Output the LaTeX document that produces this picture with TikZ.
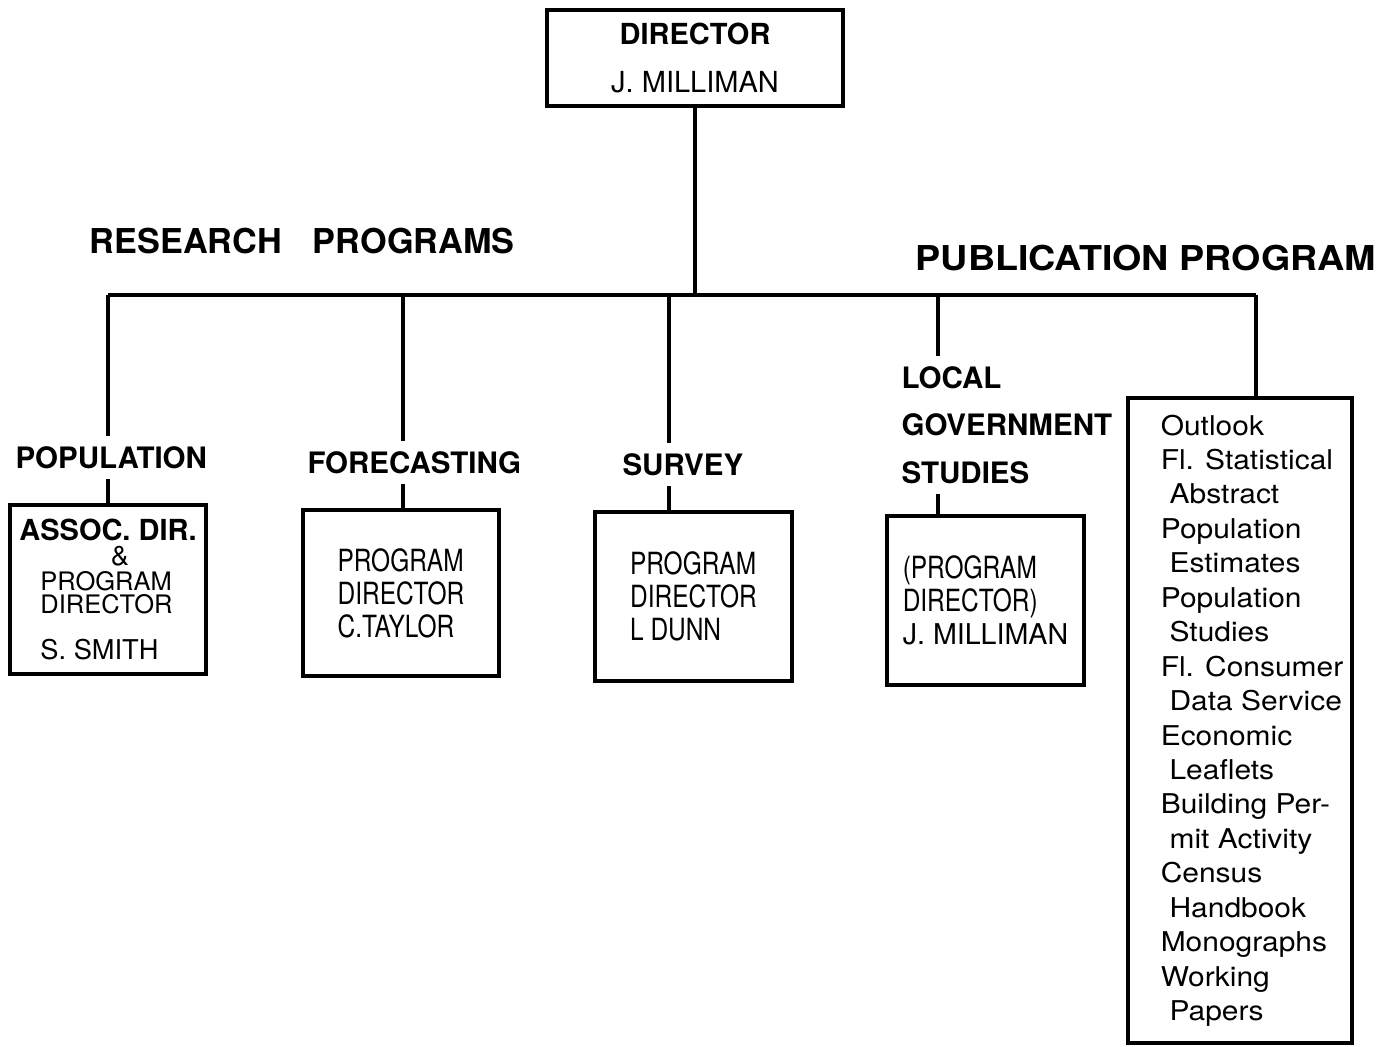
\documentclass[tikz,border=0pt]{standalone}
\usepackage{fontspec}
\setmainfont{TeX Gyre Heros}
\newfontfamily\condfont{TeX Gyre Heros}[FakeStretch=0.8]
\newfontfamily\widefont{TeX Gyre Heros}[FakeStretch=1.1]
\usepackage{tikz}

\begin{document}
\begin{tikzpicture}[x=0.02cm,y=-0.02cm,line width=2pt]
    \tikzstyle{unitbox}=[draw,inner sep=0pt,align=left]
    \tikzstyle{heading}=[font=\bfseries\fontsize{19.5}{24}\selectfont,inner sep=0pt,anchor=base west]
    \tikzstyle{program}=[font=\bfseries\fontsize{16.8}{27}\selectfont,inner sep=5pt]
    \tikzstyle{staff}=[font=\condfont\fontsize{17.4}{18.7}\selectfont]
    \useasboundingbox (0,0) rectangle (1398,1046);

    \node[unitbox,align=center,minimum width=5.92cm,minimum height=1.92cm,
      font=\fontsize{16.5}{27.3}\selectfont] (director) at (695,58)
      {\textbf{DIRECTOR}\\J. MILLIMAN};

    \node[heading] (research) at (88,253) {RESEARCH\hspace*{17.6pt}PROGRAMS};
    \node[heading,font=\widefont\bfseries\fontsize{19.5}{24}\selectfont] (publication) at (914,270)
      {PUBLICATION PROGRAM};

    % the bar and its joints
    \coordinate (jpop) at (108,295);
    \coordinate (jfore) at (403,295);
    \coordinate (jsurv) at (669,295);
    \coordinate (jlocal) at (938,295);
    \coordinate (jpub) at (1256,295);
    \draw (jpop) -- (jpub);
    \draw (director) -- (director |- jpop);

    \node[program,anchor=base west] (population) at (5,468) {POPULATION};
    \node[program,anchor=base west] (forecasting) at (297,473) {FORECASTING};
    \node[program,anchor=base west] (survey) at (612,475) {SURVEY};
    \node[program,anchor=north west,align=left] (localgov) at (891,356)
      {LOCAL\\GOVERNMENT\\STUDIES};

    \node[unitbox,minimum width=3.92cm,minimum height=3.38cm,
      font=\fontsize{14.5}{13.1}\selectfont] (popbox) at (108,589.5)
      {{\bfseries\fontsize{16.5}{13.1}\selectfont ASSOC. DIR.}\\[1.1pt]
       \hspace*{52pt}{\fontsize{15.5}{13.1}\selectfont\&}\\[1.1pt]
       \hspace*{12pt}PROGRAM\\
       \hspace*{12pt}DIRECTOR\\[13.6pt]
       \hspace*{12pt}{\fontsize{15.5}{13.1}\selectfont S. SMITH}};
    \node[unitbox,staff,minimum width=3.92cm,minimum height=3.32cm] (forebox) at (401,593)
      {PROGRAM\\DIRECTOR\\C.TAYLOR};
    \node[unitbox,staff,minimum width=3.94cm,minimum height=3.38cm] (survbox) at (693.5,596.5)
      {PROGRAM\\DIRECTOR\\L DUNN};
    \node[unitbox,staff,minimum width=3.94cm,minimum height=3.38cm] (localbox) at (985.5,600.5)
      {(PROGRAM\\DIRECTOR)\\{\rmfamily\fontsize{16.3}{18.7}\selectfont J. MILLIMAN}};

    \node[unitbox,minimum width=4.48cm,minimum height=12.9cm] (pubbox) at (1240,720.5) {};
    \node[anchor=north west,inner sep=0pt,align=left,font=\widefont\fontsize{15.5}{19.6}\selectfont]
      (publist) at (1159,413)
      {Outlook\\Fl. Statistical\\\hspace*{5pt}Abstract\\Population\\\hspace*{5pt}Estimates\\
       Population\\\hspace*{5pt}Studies\\Fl. Consumer\\\hspace*{5pt}Data Service\\
       Economic\\\hspace*{5pt}Leaflets\\Building Per-\\\hspace*{5pt}mit Activity\\
       Census\\\hspace*{5pt}Handbook\\Monographs\\Working\\\hspace*{5pt}Papers};

    % drops from the bar
    \draw (jpop) -- (jpop |- population.north);
    \draw (jpop |- population.south) -- (jpop |- popbox.north);
    \draw (jfore) -- (jfore |- forecasting.north);
    \draw (jfore |- forecasting.south) -- (jfore |- forebox.north);
    \draw (jsurv) -- (jsurv |- survey.north);
    \draw (jsurv |- survey.south) -- (jsurv |- survbox.north);
    \draw (jlocal) -- (jlocal |- localgov.north);
    \draw (jlocal |- localgov.south) -- (jlocal |- localbox.north);
    \draw (jpub) -- (jpub |- pubbox.north);
\end{tikzpicture}
\end{document}
